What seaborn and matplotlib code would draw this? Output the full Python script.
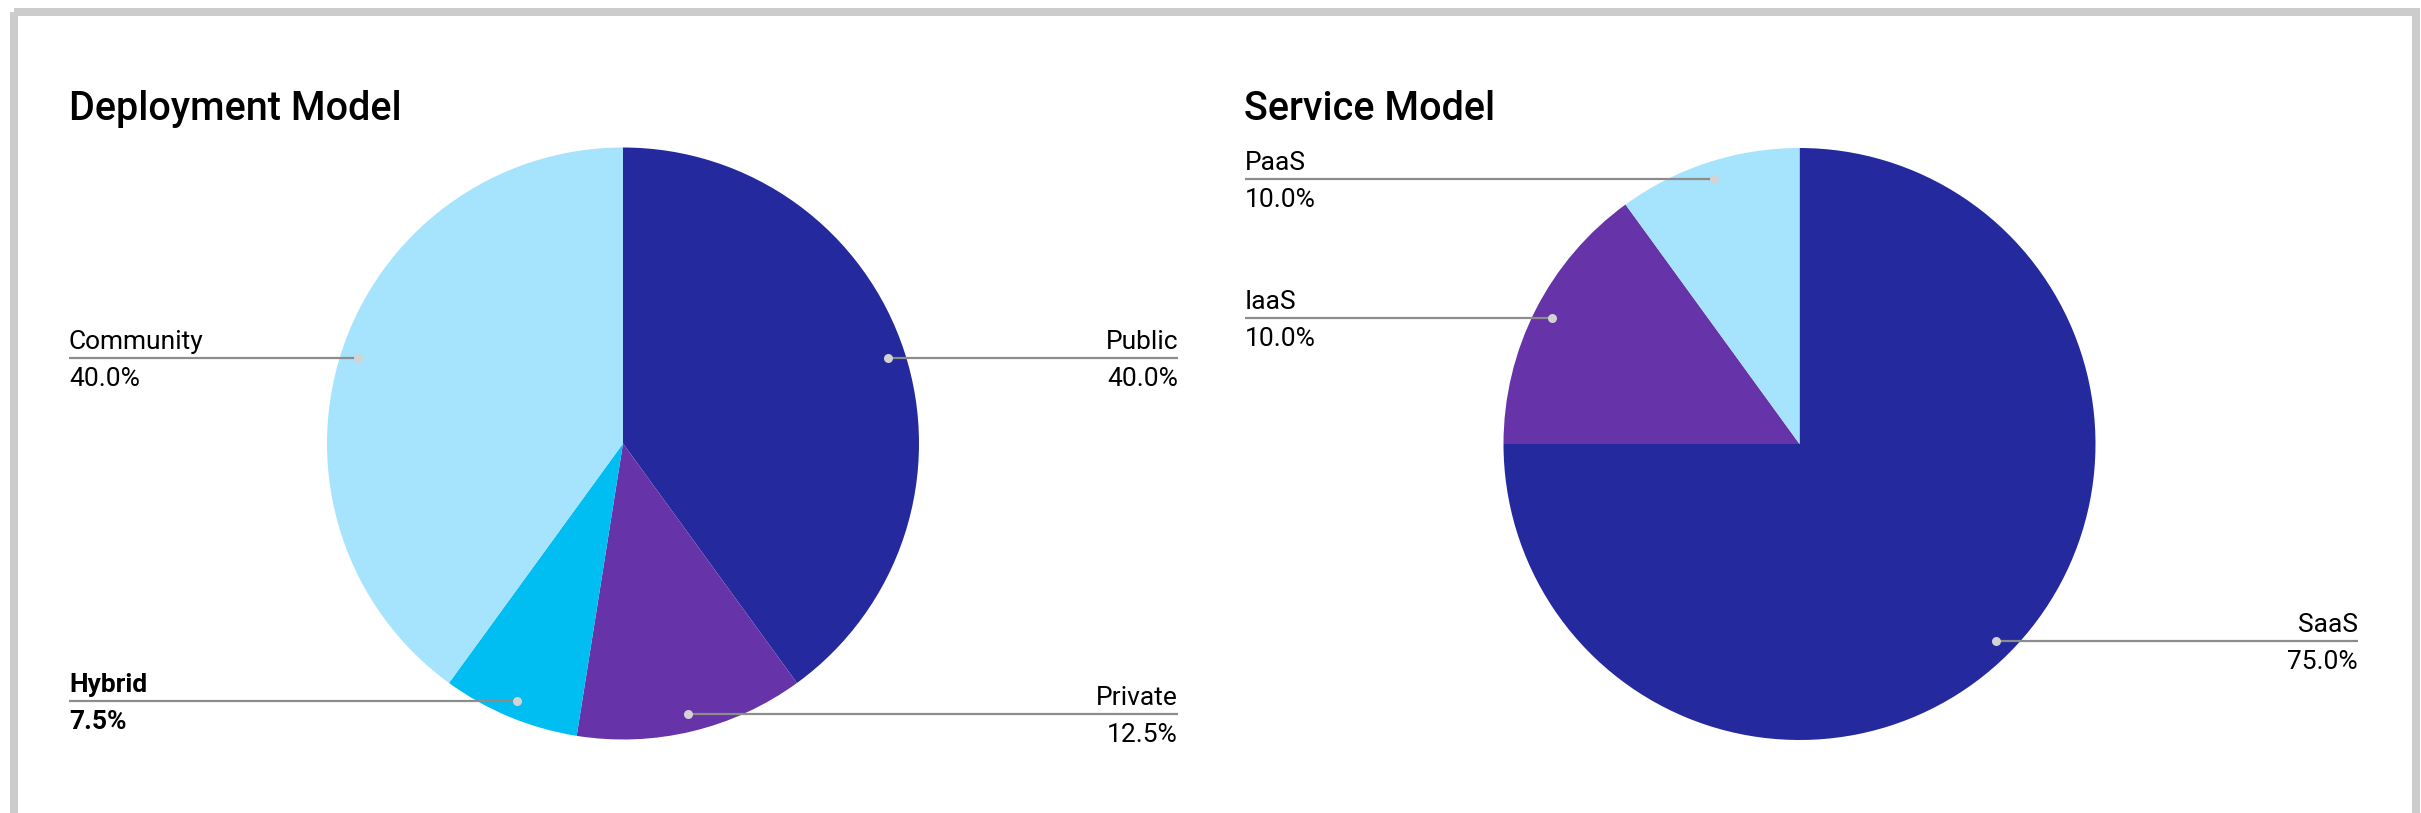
import numpy as np
import matplotlib
matplotlib.use("Agg")
import matplotlib.pyplot as plt
from matplotlib.patches import Rectangle
import seaborn as sns

# ---- data ----
deploy_title = "Deployment Model"
deploy_labels = ["Public", "Private", "Hybrid", "Community"]
deploy_values = [40.0, 12.5, 7.5, 40.0]
deploy_pct_text = ["40.0%", "12.5%", "7.5%", "40.0%"]
deploy_bold = [False, False, True, False]

service_title = "Service Model"
service_labels = ["SaaS", "IaaS", "PaaS"]
service_values = [75.0, 15.0, 10.0]
service_pct_text = ["75.0%", "10.0%", "10.0%"]
service_bold = [False, False, False]

deploy_colors = ["#24299E", "#6733A9", "#00BDF2", "#A6E3FD"]
service_colors = ["#24299E", "#6733A9", "#A6E3FD"]

sns.set_theme(style="white")
plt.rcParams["font.family"] = ["Roboto", "DejaVu Sans"]

W, H = 2421, 813
DPI = 100
fig = plt.figure(figsize=(W / DPI, H / DPI), dpi=DPI)
fig.patch.set_facecolor("white")

R = 296.0
BOX = 700.0
panels = [
    dict(title=deploy_title, labels=deploy_labels, values=deploy_values,
         pct=deploy_pct_text, bold=deploy_bold, colors=deploy_colors,
         cx=623.0, cy=443.5, left_x=69.0, right_x=1178.0, title_x=69.0),
    dict(title=service_title, labels=service_labels, values=service_values,
         pct=service_pct_text, bold=service_bold, colors=service_colors,
         cx=1799.5, cy=444.0, left_x=1245.0, right_x=2358.0, title_x=1244.0),
]

# pies
for p in panels:
    ax = fig.add_axes([(p["cx"] - BOX / 2) / W, (H - p["cy"] - BOX / 2) / H, BOX / W, BOX / H])
    ax.pie(p["values"], colors=sns.color_palette(p["colors"]), startangle=90,
           counterclock=False, radius=1.0, wedgeprops=dict(linewidth=0, edgecolor="none"))
    lim = BOX / 2 / R
    ax.set_xlim(-lim, lim)
    ax.set_ylim(-lim, lim)
    ax.set_aspect("equal")
    ax.axis("off")

# overlay in pixel coordinates
ov = fig.add_axes([0, 0, 1, 1])
ov.set_xlim(0, W)
ov.set_ylim(H, 0)
ov.axis("off")
ov.patch.set_alpha(0)

# frame
ov.add_patch(Rectangle((14, 12), 2402, 808, fill=False, edgecolor="#CCCCCC",
                       linewidth=8 * 72 / DPI, zorder=1))

FS = 19
for p in panels:
    ov.text(p["title_x"], 120, p["title"], fontsize=28.5, fontweight="medium",
            color="black", ha="left", va="baseline")
    vals = np.array(p["values"], dtype=float)
    total = vals.sum()
    cum = np.concatenate([[0], np.cumsum(vals)[:-1]])
    for lab, v, c0, pct, bold in zip(p["labels"], vals, cum, p["pct"], p["bold"]):
        theta = np.deg2rad(360.0 * (c0 + v / 2) / total)
        dx = p["cx"] + 0.94 * R * np.sin(theta)
        dy = p["cy"] - 0.94 * R * np.cos(theta)
        if dx < p["cx"]:
            lx, ha = p["left_x"], "left"
        else:
            lx, ha = p["right_x"], "right"
        ov.plot([lx, dx], [dy, dy], color="#8C8C8C", linewidth=2.2 * 72 / DPI,
                solid_capstyle="butt", zorder=3)
        ov.plot([dx], [dy], marker="o", markersize=6.5, color="#D3D3D3",
                markeredgewidth=0, zorder=4)
        w = "bold" if bold else "normal"
        ov.text(lx, dy - 9, lab, fontsize=FS, fontweight=w, color="black",
                ha=ha, va="baseline", zorder=5)
        ov.text(lx, dy + 28, pct, fontsize=FS, fontweight=w, color="black",
                ha=ha, va="baseline", zorder=5)

fig.savefig("out.png", dpi=DPI, facecolor="white")
